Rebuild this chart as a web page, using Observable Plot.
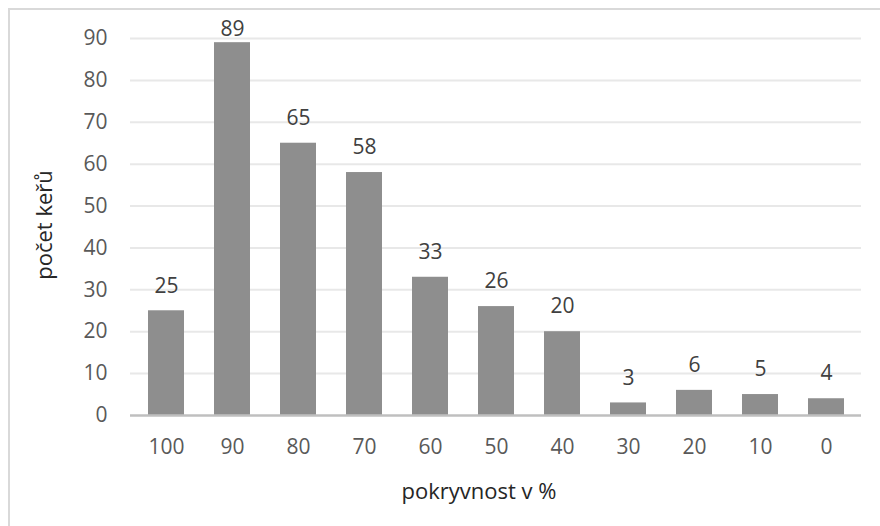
<!DOCTYPE html>
<html>
<head>
<meta charset="utf-8">
<script src="https://cdn.jsdelivr.net/npm/d3@7"></script>
<script src="https://cdn.jsdelivr.net/npm/@observablehq/plot@0.6"></script>
<style>
  html, body { margin: 0; padding: 0; background: #fff; overflow: hidden; }
  #wrap { position: relative; width: 880px; height: 526px; overflow: hidden; }
  #border {
    position: absolute; left: 7.5px; top: 7.5px; width: 900px; height: 540px;
    border-left: 2.5px solid #d9d9d9; border-top: 2.5px solid #d9d9d9;
    box-sizing: border-box;
  }
  #chart { position: absolute; left: 0; top: 0; }
  #chart svg { font-family: "Open Sans", sans-serif; }
</style>
</head>
<body>
<div id="wrap">
  <div id="border"></div>
  <div id="chart"></div>
</div>
<script>
// Shrub counts by canopy cover class
const coverClasses = ["100", "90", "80", "70", "60", "50", "40", "30", "20", "10", "0"];
const shrubCounts = [25, 89, 65, 58, 33, 26, 20, 3, 6, 5, 4];
const yTicks = [0, 10, 20, 30, 40, 50, 60, 70, 80, 90];

const xTitle = "pokryvnost v %";
const yTitle = "počet keřů";

const rows = coverClasses.map((c, i) => ({cover: c, count: shrubCounts[i]}));

// value labels stay inside the plot area near the top
const labelCeiling = 86.2;

const chart = Plot.plot({
  width: 880,
  height: 526,
  marginLeft: 130,
  marginRight: 19,
  marginTop: 38,
  marginBottom: 111,
  style: {fontSize: "21px", fontFamily: "Open Sans, sans-serif", overflow: "visible"},
  x: {domain: coverClasses, paddingInner: 0.46, paddingOuter: 0.23, label: null},
  y: {domain: [0, 90], ticks: yTicks, label: null},
  marks: [
    Plot.gridY(yTicks.filter(t => t > 0), {stroke: "#e8e8e8", strokeOpacity: 1, strokeWidth: 2}),
    Plot.barY(rows, {x: "cover", y: "count", fill: "#8e8e8e"}),
    Plot.ruleY([0], {stroke: "#bfbfbf", strokeWidth: 2.5}),
    Plot.axisY(yTicks, {tickSize: 0, tickPadding: 23, fill: "#595959", label: null, fontSize: 21}),
    Plot.axisX({tickSize: 0, tickPadding: 24, fill: "#595959", label: null, fontSize: 21}),
    Plot.text(rows, {
      x: "cover",
      y: d => Math.min(d.count, labelCeiling),
      text: d => String(d.count),
      dy: -25,
      fill: "#404040",
      fontSize: 21
    }),
    Plot.text([xTitle], {
      frameAnchor: "bottom", textAnchor: "middle", lineAnchor: "middle",
      dy: 76, dx: -17, fill: "#262626", fontSize: 22
    }),
    Plot.text([yTitle], {
      frameAnchor: "left", textAnchor: "middle", lineAnchor: "middle",
      dx: -86, dy: -2, rotate: -90, fill: "#262626", fontSize: 22
    })
  ]
});

document.getElementById("chart").appendChild(chart);
</script>
</body>
</html>
